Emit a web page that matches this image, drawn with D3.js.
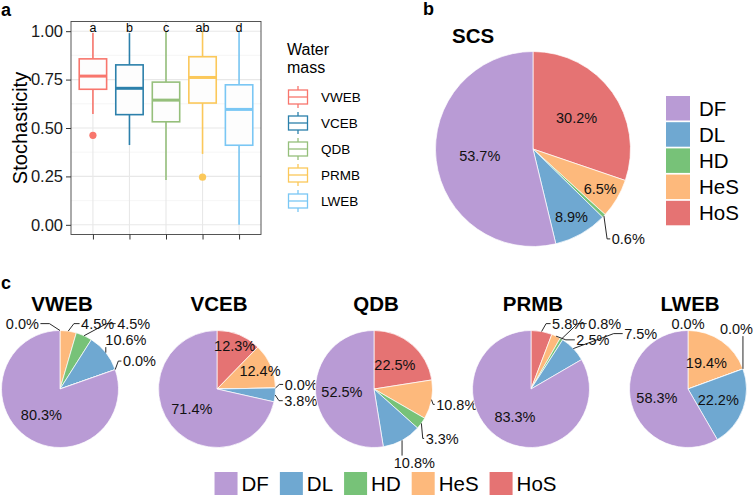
<!DOCTYPE html>
<html lang="en">
<head>
<meta charset="utf-8">
<title>Stochasticity and assembly processes</title>
<script src="https://cdn.jsdelivr.net/npm/d3@7"></script>
<style>
  body { margin: 0; background: #fff; }
  svg { display: block; font-family: "Liberation Sans", Arial, Helvetica, sans-serif; }
  .tag { font-weight: bold; font-size: 18px; }
  .axis text { font-size: 16.5px; fill: #1a1a1a; }
  .axis line { stroke: #333; }
  .axis path { display: none; }
  .pie-title { font-weight: bold; font-size: 20.5px; text-anchor: middle; }
  .pie-label { font-size: 14.5px; fill: #111; }
  .leader { stroke: #111; stroke-width: 0.9px; fill: none; }
</style>
</head>
<body>
<div id="chart"></div>
<script>
var width = 754, height = 496;

// ---- panel a : stochasticity per water mass
var waterMasses = ["VWEB", "VCEB", "QDB", "PRMB", "LWEB"];
var whiskerLow  = [0.572, 0.412, 0.232, 0.366, 0.000];
var boxQ1       = [0.700, 0.569, 0.532, 0.629, 0.411];
var boxMedian   = [0.768, 0.705, 0.644, 0.761, 0.596];
var boxQ3       = [0.857, 0.826, 0.737, 0.868, 0.723];
var whiskerHigh = [0.990, 0.990, 1.000, 1.000, 1.000];
var outliers    = [[0.462], [], [], [0.246], []];
var sigLetters  = ["a", "b", "c", "ab", "d"];
var yTicks      = [0, 0.25, 0.5, 0.75, 1];

// ---- panel b/c : relative importance of processes (%)
var processes = ["DF", "DL", "HD", "HeS", "HoS"];
var scsShares = [53.7, 8.9, 0.6, 6.5, 30.2];
var sites     = ["VWEB", "VCEB", "QDB", "PRMB", "LWEB"];
var dfShares  = [80.3, 71.4, 52.5, 83.3, 58.3];
var dlShares  = [10.6, 3.8, 10.8, 7.5, 22.2];
var hdShares  = [4.5, 0.0, 3.3, 0.8, 0.0];
var hesShares = [4.5, 12.4, 10.8, 2.5, 19.4];
var hosShares = [0.0, 12.3, 22.5, 5.8, 0.0];
var naShares  = [0.0, null, null, null, null]; // unlabelled extra row, only in VWEB

var massColors = {VWEB: "#F8766D", VCEB: "#2C80AB", QDB: "#95BF7B", PRMB: "#FBC85A", LWEB: "#7AC7F4"};
var procColors = {DF: "#B99BD5", DL: "#6FA8D1", HD: "#77C278", HeS: "#FDB97C", HoS: "#E57373", NA: "#999999"};

var svg = d3.select("#chart").append("svg")
    .attr("width", width)
    .attr("height", height);

/* ================= panel a ================= */
var panel = {left: 71, right: 261, top: 21.5, bottom: 234.5};
var x = d3.scaleLinear().domain([0.4, 5.6]).range([panel.left, panel.right]);
var y = d3.scaleLinear().domain([-0.05, 1.05]).range([panel.bottom, panel.top]);

svg.append("text").attr("class", "tag").attr("x", 1).attr("y", 16).text("a");

var gA = svg.append("g");
gA.append("rect")
    .attr("x", panel.left).attr("y", panel.top)
    .attr("width", panel.right - panel.left).attr("height", panel.bottom - panel.top)
    .attr("fill", "#fff");

// minor + major grid
gA.selectAll(".minor").data(d3.range(0.125, 1, 0.25)).enter().append("line")
    .attr("x1", panel.left).attr("x2", panel.right)
    .attr("y1", function(d) { return y(d); }).attr("y2", function(d) { return y(d); })
    .attr("stroke", "#f0f0f0").attr("stroke-width", 0.6);
gA.selectAll(".major").data(yTicks).enter().append("line")
    .attr("x1", panel.left).attr("x2", panel.right)
    .attr("y1", function(d) { return y(d); }).attr("y2", function(d) { return y(d); })
    .attr("stroke", "#e8e8e8").attr("stroke-width", 1.1);
gA.selectAll(".vgrid").data(waterMasses).enter().append("line")
    .attr("x1", function(d, i) { return x(i + 1); }).attr("x2", function(d, i) { return x(i + 1); })
    .attr("y1", panel.top).attr("y2", panel.bottom)
    .attr("stroke", "#e8e8e8").attr("stroke-width", 1.1);

var halfBox = (x(1.375) - x(1));
var boxes = gA.selectAll(".box").data(waterMasses).enter().append("g")
    .attr("transform", function(d, i) { return "translate(" + x(i + 1) + ",0)"; });

boxes.append("line")
    .attr("y1", function(d, i) { return y(whiskerHigh[i]); })
    .attr("y2", function(d, i) { return y(boxQ3[i]); })
    .attr("stroke", function(d) { return massColors[d]; }).attr("stroke-width", 1.6);
boxes.append("line")
    .attr("y1", function(d, i) { return y(boxQ1[i]); })
    .attr("y2", function(d, i) { return y(whiskerLow[i]); })
    .attr("stroke", function(d) { return massColors[d]; }).attr("stroke-width", 1.6);
boxes.append("rect")
    .attr("x", -halfBox).attr("width", 2 * halfBox)
    .attr("y", function(d, i) { return y(boxQ3[i]); })
    .attr("height", function(d, i) { return y(boxQ1[i]) - y(boxQ3[i]); })
    .attr("fill", "#fdfdfd")
    .attr("stroke", function(d) { return massColors[d]; }).attr("stroke-width", 1.6);
boxes.append("line")
    .attr("x1", -halfBox).attr("x2", halfBox)
    .attr("y1", function(d, i) { return y(boxMedian[i]); })
    .attr("y2", function(d, i) { return y(boxMedian[i]); })
    .attr("stroke", function(d) { return massColors[d]; }).attr("stroke-width", 3);
boxes.selectAll(".out").data(function(d, i) { return outliers[i].map(function(v) { return {v: v, m: d}; }); })
    .enter().append("circle")
    .attr("cy", function(o) { return y(o.v); }).attr("r", 3.6)
    .attr("fill", function(o) { return massColors[o.m]; });
boxes.append("text")
    .attr("y", y(1) + 1)
    .attr("text-anchor", "middle")
    .attr("font-size", 12.5)
    .text(function(d, i) { return sigLetters[i]; });

gA.append("rect")
    .attr("x", panel.left).attr("y", panel.top)
    .attr("width", panel.right - panel.left).attr("height", panel.bottom - panel.top)
    .attr("fill", "none").attr("stroke", "#444").attr("stroke-width", 0.9);

gA.append("g").attr("class", "axis")
    .attr("transform", "translate(" + panel.left + ",0)")
    .call(d3.axisLeft(y).tickValues(yTicks).tickFormat(d3.format(".2f")).tickSize(5).tickPadding(3));
gA.append("g").attr("class", "axis")
    .attr("transform", "translate(0," + panel.bottom + ")")
    .call(d3.axisBottom(x).tickValues([1, 2, 3, 4, 5]).tickFormat("").tickSize(5));

gA.append("text")
    .attr("transform", "translate(27," + ((panel.top + panel.bottom) / 2) + ") rotate(-90)")
    .attr("text-anchor", "middle")
    .attr("font-size", 20)
    .text("Stochasticity");

// legend of panel a
var legA = svg.append("g").attr("transform", "translate(287,0)");
legA.append("text").attr("y", 55).attr("font-size", 16).text("Water");
legA.append("text").attr("y", 73).attr("font-size", 16).text("mass");
var legRows = legA.selectAll(".row").data(waterMasses).enter().append("g")
    .attr("transform", function(d, i) { return "translate(0," + (97 + i * 26) + ")"; });
legRows.append("line").attr("x1", 11).attr("x2", 11).attr("y1", -11).attr("y2", 11)
    .attr("stroke", function(d) { return massColors[d]; }).attr("stroke-width", 1.3);
legRows.append("rect").attr("x", 1.5).attr("y", -7).attr("width", 19).attr("height", 14)
    .attr("fill", "#fff").attr("stroke", function(d) { return massColors[d]; }).attr("stroke-width", 1.3);
legRows.append("line").attr("x1", 1.5).attr("x2", 20.5).attr("y1", 0).attr("y2", 0)
    .attr("stroke", function(d) { return massColors[d]; }).attr("stroke-width", 1.3);
legRows.append("text").attr("x", 34).attr("y", 5).attr("font-size", 13.5).text(function(d) { return d; });

/* ================= pies ================= */
var pieLayout = d3.pie().sort(null).value(function(d) { return d.v; })
    .startAngle(0).endAngle(2 * Math.PI);

// crude label repel, in the spirit of ggrepel
function repel(cx, cy, r, items, obstacles, minY) {
  for (var it = 0; it < 600; it++) {
    var spring = it < 300 ? 0.004 : 0;
    items.forEach(function(p) {
      var qx = Math.max(p.x - p.w / 2, Math.min(cx, p.x + p.w / 2));
      var qy = Math.max(p.y - p.h / 2, Math.min(cy, p.y + p.h / 2));
      var dx = qx - cx, dy = qy - cy, d = Math.sqrt(dx * dx + dy * dy);
      if (d < r + 3) {
        var ux = Math.sin(p.a), uy = -Math.cos(p.a);
        var vx = p.x - cx, vy = p.y - cy, vl = Math.sqrt(vx * vx + vy * vy);
        if (vl > 1) { ux = vx / vl; uy = vy / vl; }
        p.x += ux * (r + 3 - d) * 0.6;
        p.y += uy * (r + 3 - d) * 0.6;
      }
    });
    var all = items.concat(obstacles);
    items.forEach(function(p) {
      all.forEach(function(q) {
        if (p === q) return;
        var dx = p.x - q.x, dy = p.y - q.y;
        var ox = (p.w + q.w) / 2 + 3 - Math.abs(dx);
        var oy = (p.h + q.h) / 2 + 1 - Math.abs(dy);
        if (ox > 0 && oy > 0) {
          var k = q.fixed ? 0.8 : 0.4;
          if (ox < oy) {
            var sx = dx === 0 ? (p.a < Math.PI ? 1 : -1) : Math.sign(dx);
            p.x += sx * ox * k;
            if (!q.fixed) q.x -= sx * ox * k;
          } else {
            var sy = dy === 0 ? (Math.cos(p.a) > 0 ? -1 : 1) : Math.sign(dy);
            p.y += sy * oy * k;
            if (!q.fixed) q.y -= sy * oy * k;
          }
        }
      });
      p.x += (p.x0 - p.x) * spring;
      p.y += (p.y0 - p.y) * spring;
      p.x = Math.max(p.w / 2 + 1, Math.min(width - p.w / 2 - 1, p.x));
      p.y = Math.max(minY + p.h / 2, p.y);
    });
  }
}

function drawPie(cx, cy, r, slices, title, titleX, titleY, anchor) {
  var g = svg.append("g");
  var arcs = pieLayout(slices.filter(function(s) { return s.v !== null; }));
  var arc = d3.arc().innerRadius(0).outerRadius(r);

  g.selectAll(".slice").data(arcs).enter().append("path")
      .attr("transform", "translate(" + cx + "," + cy + ")")
      .attr("d", arc)
      .attr("fill", function(d) { return procColors[d.data.p]; })
      .attr("stroke", "#fff").attr("stroke-width", 0.7);

  g.append("text").attr("class", "pie-title")
      .attr("x", titleX).attr("y", titleY).style("text-anchor", anchor).text(title);
  var obstacles = [];

  var fs = 14.5, lh = fs * 1.05;
  var outside = [];
  arcs.forEach(function(d) {
    var txt = g.append("text").attr("class", "pie-label")
        .attr("text-anchor", "middle")
        .text(d3.format(".1f")(d.data.v) + "%");
    var w = txt.node().getComputedTextLength();
    var a = (d.startAngle + d.endAngle) / 2;
    var f = d.data.v / 100;
    var rl = f >= 0.15 ? 0.55 * r : 0.8 * r;
    var item = {txt: txt, w: w, h: lh, a: a};
    if (f * 2 * Math.PI * rl >= 0.85 * w) {
      item.x = cx + rl * Math.sin(a);
      item.y = cy - rl * Math.cos(a);
      item.fixed = true;
      obstacles.push(item);
    } else {
      var ro = 1.2 * r + 14;
      item.x = item.x0 = cx + ro * Math.sin(a);
      item.y = item.y0 = cy - ro * Math.cos(a);
      item.ex = cx + r * Math.sin(a);
      item.ey = cy - r * Math.cos(a);
      outside.push(item);
    }
  });

  // labels stay below the pie title
  repel(cx, cy, r, outside, obstacles, titleY + 5);

  obstacles.concat(outside).forEach(function(p) {
    p.txt.attr("x", p.x).attr("y", p.y + fs * 0.36);
  });

  outside.forEach(function(p) {
    var left = p.x - p.w / 2 - 1.5, right = p.x + p.w / 2 + 1.5;
    var top = p.y - fs * 0.4 - 1.5, bottom = p.y + fs * 0.4 + 1.5;
    var pts;
    if (p.ex >= left && p.ex <= right) {
      var yy = p.ey < top ? top : bottom;
      if (Math.abs(yy - p.ey) < 3) return;
      pts = [[p.ex, p.ey], [p.ex, yy]];
    } else {
      var xx = p.ex < left ? left : right;
      var dir = p.ex < left ? 1 : -1;
      var k = Math.min(9, Math.abs(xx - p.ex) / 2);
      if (Math.hypot(xx - p.ex, p.y - p.ey) < 4) return;
      pts = [[p.ex, p.ey], [xx - dir * k, p.y], [xx, p.y]];
    }
    g.insert("path", ".pie-label").attr("class", "leader").attr("d", d3.line()(pts));
  });
}

// panel b
svg.append("text").attr("class", "tag").attr("x", 423).attr("y", 15).text("b");
var scsSlices = processes.slice().reverse().map(function(p) {
  return {p: p, v: scsShares[processes.indexOf(p)]};
});
drawPie(533, 149, 97.5, scsSlices, "SCS", 452, 43, "start");

var legB = svg.append("g").attr("transform", "translate(666,96)");
var legBRows = legB.selectAll(".row").data(processes).enter().append("g")
    .attr("transform", function(d, i) { return "translate(0," + (i * 26.2) + ")"; });
legBRows.append("rect").attr("width", 24).attr("height", 24.5)
    .attr("fill", function(d) { return procColors[d]; });
legBRows.append("text").attr("x", 33).attr("y", 19.5).attr("font-size", 20.5)
    .text(function(d) { return d; });

// panel c
svg.append("text").attr("class", "tag").attr("x", 1).attr("y", 289).text("c");
var siteX = d3.scalePoint().domain(sites).range([60, 688]);
sites.forEach(function(s, i) {
  var slices = [
    {p: "HoS", v: hosShares[i]},
    {p: "HeS", v: hesShares[i]},
    {p: "HD",  v: hdShares[i]},
    {p: "DL",  v: dlShares[i]},
    {p: "NA",  v: naShares[i]},
    {p: "DF",  v: dfShares[i]}
  ];
  drawPie(siteX(s), 389, 58.5, slices, s, siteX(s) + 2, 311, "middle");
});

var legC = svg.append("g");
var cx0 = 0;
var legCItems = processes.map(function(p) {
  var gi = legC.append("g");
  gi.append("rect").attr("width", 23).attr("height", 23).attr("fill", procColors[p]);
  var tx = gi.append("text").attr("x", 27).attr("y", 18.5).attr("font-size", 20.5).text(p);
  var w = 27 + tx.node().getComputedTextLength();
  var item = {g: gi, x: cx0};
  cx0 += w + 11;
  return item;
});
var legCStart = 385.5 - (cx0 - 11) / 2;
legCItems.forEach(function(it) {
  it.g.attr("transform", "translate(" + (legCStart + it.x) + ",472)");
});
</script>
</body>
</html>
